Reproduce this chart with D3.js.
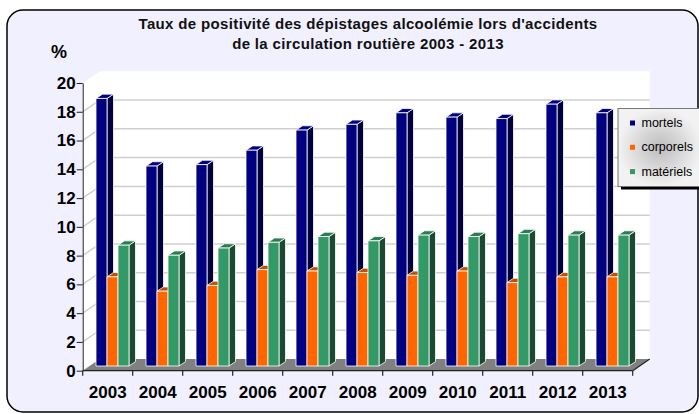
<!DOCTYPE html>
<html>
<head>
<meta charset="utf-8">
<script src="https://cdn.jsdelivr.net/npm/d3@7"></script>
<style>
  html, body { margin: 0; padding: 0; background: #fff; }
  svg { display: block; font-family: Arial, "Liberation Sans", sans-serif; }
</style>
</head>
<body>
<svg id="chart" width="699" height="414"></svg>
<script>
// Data
const years = ["2003","2004","2005","2006","2007","2008","2009","2010","2011","2012","2013"];
const series = ["mortels", "corporels", "matériels"];
const mortels   = [18.6, 13.9, 14.0, 15.0, 16.4, 16.8, 17.6, 17.3, 17.2, 18.2, 17.6];
const corporels = [6.2, 5.2, 5.6, 6.7, 6.6, 6.5, 6.3, 6.6, 5.8, 6.2, 6.2];
const materiels = [8.4, 7.7, 8.2, 8.6, 9.0, 8.7, 9.1, 9.0, 9.2, 9.1, 9.1];
const yTicks = [0, 2, 4, 6, 8, 10, 12, 14, 16, 18, 20];
const titleLines = ["Taux de positivité des dépistages alcoolémie lors d'accidents",
                    "de la circulation routière 2003 - 2013"];

const values = [mortels, corporels, materiels];
// front, top, side colours per series
const colors = [
  { front: "#000080", top: "#000080", side: "#00003c" },
  { front: "#ff6600", top: "#c45000", side: "#a84400" },
  { front: "#339966", top: "#2a7d53", side: "#1b4a32" }
];

const svg = d3.select("#chart");
const defs = svg.append("defs");

// 3D geometry
const DX = 17, DY = -11.7;          // back wall depth offset
const BDX = 6.8, BDY = -4.7;        // bars sit part-way into the depth
const SDX = 6.5, SDY = -4.3;        // bar thickness

const x = d3.scaleBand().domain(years).range([82.7, 632.7]);
const sub = d3.scaleBand().domain(series).range([6.5, 39.5]);
const y = d3.scaleLinear().domain([0, 20]).range([370.7, 83]);
const x0 = x.range()[0], x1 = x.range()[1];

// outer frame
svg.append("rect")
  .attr("x", 7).attr("y", 10).attr("width", 691).attr("height", 402)
  .attr("rx", 16).attr("fill", "#f0f0fe").attr("stroke", "#000").attr("stroke-width", 1.5);

// back wall
svg.append("rect")
  .attr("x", x0 + DX).attr("y", y(20) + DY)
  .attr("width", x1 - x0).attr("height", y(0) - y(20))
  .attr("fill", "#fff");

// side wall
svg.append("polygon")
  .attr("points", [[x0, y(0)], [x0 + DX, y(0) + DY], [x0 + DX, y(20) + DY], [x0, y(20)]].join(" "))
  .attr("fill", "#fff");

// gridlines on the walls
const grid = svg.append("g").attr("stroke", "#cfcfcf").attr("stroke-width", 1.5).attr("fill", "none");
yTicks.filter(t => t > 0 && t < 20).forEach(t => {
  grid.append("polyline")
    .attr("points", [[x0, y(t)], [x0 + DX, y(t) + DY], [x1 + DX, y(t) + DY]].join(" "));
});

// floor
svg.append("polygon")
  .attr("points", [[x0, y(0)], [x0 + DX, y(0) + DY], [x1 + DX, y(0) + DY], [x1, y(0)]].join(" "))
  .attr("fill", "#808080");

// bars
const bars = svg.append("g");
years.forEach((yr, i) => {
  series.forEach((s, j) => {
    const v = values[j][i];
    const c = colors[j];
    const bx = x(yr) + BDX + sub(s);
    const bw = sub.bandwidth();
    const base = y(0) + BDY;
    const top = y(v) + BDY;
    const g = bars.append("g").attr("stroke", "#fff").attr("stroke-width", 0.8).attr("stroke-linejoin", "round");
    g.append("polygon")
      .attr("points", [[bx + bw, base], [bx + bw + SDX, base + SDY], [bx + bw + SDX, top + SDY], [bx + bw, top]].join(" "))
      .attr("fill", c.side);
    g.append("polygon")
      .attr("points", [[bx, top], [bx + SDX, top + SDY], [bx + bw + SDX, top + SDY], [bx + bw, top]].join(" "))
      .attr("fill", c.top);
    g.append("rect")
      .attr("x", bx).attr("y", top).attr("width", bw).attr("height", base - top)
      .attr("fill", c.front);
  });
});

// y axis
const yAxis = svg.append("g")
  .attr("transform", `translate(${x0},0)`)
  .call(d3.axisLeft(y).tickValues(yTicks).tickSize(6).tickPadding(1).tickSizeOuter(0));
yAxis.select(".domain").attr("stroke", "#222");
yAxis.selectAll(".tick line").attr("stroke", "#222");
yAxis.selectAll("text").attr("font-size", 17).attr("font-weight", "bold")
  .attr("fill", "#000").attr("font-family", "Arial, 'Liberation Sans', sans-serif");

// x axis: front edge, right depth edge, ticks at boundaries
const xAxis = svg.append("g").attr("stroke", "#222").attr("stroke-width", 1.2);
xAxis.append("line").attr("x1", x0).attr("x2", x1).attr("y1", y(0)).attr("y2", y(0));
xAxis.append("line").attr("x1", x1).attr("x2", x1 + DX).attr("y1", y(0)).attr("y2", y(0) + DY);
years.map(d => x(d)).concat([x1]).forEach(px => {
  xAxis.append("line").attr("x1", px).attr("x2", px).attr("y1", y(0)).attr("y2", y(0) + 5);
});
svg.append("g").selectAll("text")
  .data(years).join("text")
  .attr("x", d => x(d) + x.bandwidth() / 2)
  .attr("y", 398)
  .attr("text-anchor", "middle")
  .attr("font-size", 17).attr("font-weight", "bold").attr("fill", "#000")
  .text(d => d);

// unit label
svg.append("text").attr("x", 51).attr("y", 58)
  .attr("font-size", 18).attr("font-weight", "bold").text("%");

// title
svg.append("g").selectAll("text")
  .data(titleLines).join("text")
  .attr("x", 368).attr("y", (d, i) => 29 + i * 20)
  .attr("text-anchor", "middle")
  .attr("font-size", 15).attr("letter-spacing", 0.35).attr("font-weight", "bold").attr("fill", "#111")
  .text(d => d);

// legend
const lg = defs.append("radialGradient").attr("id", "lgGrad");
lg.append("stop").attr("offset", "0%").attr("stop-color", "#bcbcbc");
lg.append("stop").attr("offset", "100%").attr("stop-color", "#f2f2f2");

const legend = svg.append("g").attr("transform", "translate(618,108.5)");
legend.append("rect").attr("x", 3).attr("y", 3).attr("width", 84).attr("height", 78).attr("fill", "#000");
legend.append("rect").attr("width", 84).attr("height", 78)
  .attr("fill", "url(#lgGrad)").attr("stroke", "#777").attr("stroke-width", 1);
series.forEach((s, j) => {
  const ly = 18.5 + j * 24.3;
  legend.append("rect").attr("x", 12).attr("y", ly - 6.5).attr("width", 5).attr("height", 5)
    .attr("fill", colors[j].front);
  legend.append("text").attr("x", 23.5).attr("y", ly)
    .attr("font-size", 12.5).attr("fill", "#000").text(s);
});
</script>
</body>
</html>
